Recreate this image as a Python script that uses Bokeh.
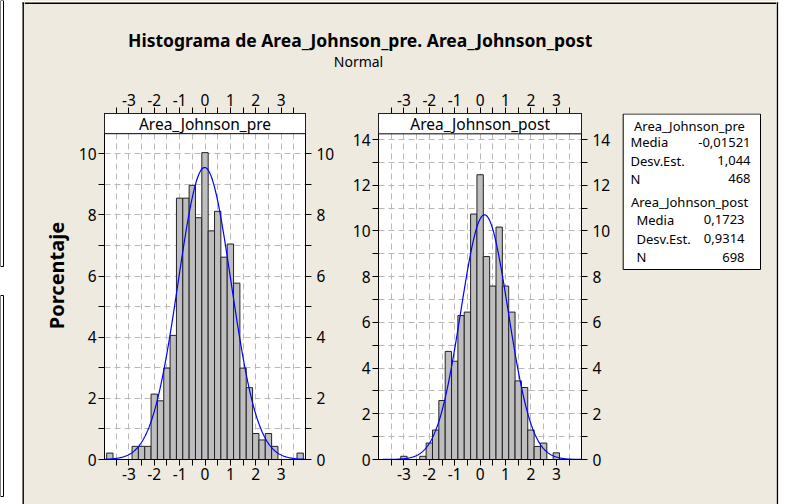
import numpy as np
from bokeh.plotting import figure
from bokeh.models import Range1d, LinearAxis, FixedTicker, BoxAnnotation, Label
from bokeh.layouts import row, column
from bokeh.embed import file_html
from bokeh.resources import INLINE

BEIGE = "#EEEAE0"
FONT = "Noto Sans"

# ---------------- data ----------------
bin_mid = [-3.75, -3.5, -3.25, -3.0, -2.75, -2.5, -2.25, -2.0, -1.75, -1.5, -1.25,
           -1.0, -0.75, -0.5, -0.25, 0.0, 0.25, 0.5, 0.75, 1.0, 1.25, 1.5, 1.75,
           2.0, 2.25, 2.5, 2.75, 3.0, 3.25, 3.5, 3.75]
bin_width = 0.25
pre_pct = [0.21, 0.0, 0.0, 0.0, 0.43, 0.43, 0.43, 2.14, 1.92, 2.99, 4.06,
           8.55, 8.55, 8.97, 7.91, 10.04, 7.48, 8.12, 6.62, 7.05, 5.77, 2.99, 2.35,
           0.85, 0.64, 0.85, 0.43, 0.0, 0.0, 0.0, 0.21]
post_pct = [0.0, 0.0, 0.0, 0.14, 0.0, 0.0, 0.14, 0.72, 1.29, 2.58, 4.73,
            4.30, 6.30, 6.45, 10.74, 12.46, 8.88, 7.59, 10.17, 7.59, 6.45, 3.44, 3.15,
            1.29, 0.57, 0.72, 0.0, 0.29, 0.0, 0.0, 0.0]
series_names = ["Area_Johnson_pre", "Area_Johnson_post"]
means = [-0.01521, 0.1723]
sds = [1.044, 0.9314]
ns = [468, 698]
mean_text = ["-0,01521", "0,1723"]
sd_text = ["1,044", "0,9314"]
x_ticks = [-3, -2, -1, 0, 1, 2, 3]
x_minor = [-3.5, -2.5, -1.5, -0.5, 0.5, 1.5, 2.5, 3.5]
x_grid = [-3.5, -3, -2.5, -2, -1.5, -1, -0.5, 0, 0.5, 1, 1.5, 2, 2.5, 3, 3.5]
title_text = "Histograma de Area_Johnson_pre. Area_Johnson_post"
subtitle_text = "Normal"
ylabel_text = "Porcentaje"
stat_labels = ["Media", "Desv.Est.", "N"]


def style_axis(ax, standoff, ticks):
    ax.axis_line_color = "black"
    ax.major_tick_line_color = "black"
    ax.minor_tick_line_color = "black"
    ax.major_tick_out = 6
    ax.major_tick_in = 0
    ax.minor_tick_out = 6
    ax.minor_tick_in = 0
    ax.major_label_text_font = FONT
    ax.major_label_text_font_size = "15.5px"
    ax.major_label_text_color = "black"
    ax.major_label_standoff = standoff
    ax.major_label_overrides = {t: str(t) for t in ticks}


def panel(name, pct, mu, sd, xr, ytop, header_bottom, ymax_tick,
          min_left, frame_w, min_right):
    p = figure(frame_width=frame_w, frame_height=346,
               x_range=Range1d(*xr), y_range=Range1d(0, ytop),
               toolbar_location=None, output_backend="svg",
               min_border_left=min_left, min_border_right=min_right,
               min_border_top=28, min_border_bottom=45,
               background_fill_color="white", border_fill_color=BEIGE,
               outline_line_color="black", outline_line_width=1)
    yt = list(range(0, ymax_tick + 1, 2))
    ym = list(range(1, ymax_tick, 2))
    p.xgrid.ticker = FixedTicker(ticks=x_grid)
    p.ygrid.ticker = FixedTicker(ticks=list(range(1, ymax_tick + 1)))
    for g in (p.xgrid[0], p.ygrid[0]):
        g.grid_line_color = "#B8B8B8"
        g.grid_line_dash = "6 4"
        g.grid_line_width = 1
    p.xaxis[0].ticker = FixedTicker(ticks=x_ticks, minor_ticks=x_minor)
    style_axis(p.xaxis[0], 2, x_ticks)
    p.yaxis[0].ticker = FixedTicker(ticks=yt, minor_ticks=ym)
    style_axis(p.yaxis[0], 2, yt)
    ax_r = LinearAxis(ticker=FixedTicker(ticks=yt, minor_ticks=ym))
    style_axis(ax_r, 5, yt)
    p.add_layout(ax_r, "right")
    ax_t = LinearAxis(ticker=FixedTicker(ticks=x_ticks, minor_ticks=x_minor))
    style_axis(ax_t, 2, x_ticks)
    p.add_layout(ax_t, "above")

    p.vbar(x=bin_mid, top=pct, width=bin_width, bottom=0,
           fill_color="#BEBEBE", line_color="#222222", line_width=1)
    xs = np.linspace(xr[0], xr[1], 400)
    ys = 100.0 * bin_width * np.exp(-0.5 * ((xs - mu) / sd) ** 2) / (sd * np.sqrt(2 * np.pi))
    p.line(xs, ys, line_color="#0000FF", line_width=1.2)

    p.add_layout(BoxAnnotation(bottom=header_bottom, fill_color="white", fill_alpha=1.0,
                               line_color="black", line_width=1, line_alpha=1.0))
    p.add_layout(Label(x=0, y=(header_bottom + ytop) / 2, text=name,
                       text_align="center", text_baseline="middle",
                       text_font=FONT, text_font_size="15.5px", text_color="black"))
    return p


pre = panel(series_names[0], pre_pct, means[0], sds[0], (-3.96, 3.96), 11.32, 10.66, 10,
            30, 201, 37)
post = panel(series_names[1], post_pct, means[1], sds[1], (-4.0, 3.99), 15.14, 14.25, 14,
             36, 203, 34)


def blank(w, h, xr, yr, bg):
    f = figure(width=w, height=h, x_range=Range1d(*xr), y_range=Range1d(*yr),
               toolbar_location=None, output_backend="svg", min_border=0,
               x_axis_location=None, y_axis_location=None,
               background_fill_color=bg, border_fill_color=bg, outline_line_color=None)
    f.grid.visible = False
    return f


def side(w, xr):
    # a figure whose frame lines up with the panel frames (page y 113..459)
    f = figure(width=w, frame_height=346, x_range=Range1d(*xr), y_range=Range1d(459, 113),
               toolbar_location=None, output_backend="svg",
               min_border_left=0, min_border_right=0, min_border_top=28, min_border_bottom=45,
               x_axis_location=None, y_axis_location=None,
               background_fill_color=BEIGE, border_fill_color=BEIGE, outline_line_color=None)
    f.grid.visible = False
    return f


# title area (coordinates are page pixels)
tfig = blank(752, 85, (24, 776), (85, 0), BEIGE)
tfig.quad(left=[24], right=[776], top=[0], bottom=[2], fill_color="white", line_color=None)
tfig.quad(left=[24], right=[776], top=[2], bottom=[3.4], fill_color="black", line_color=None)
tfig.add_layout(Label(x=359.7, y=39.5, text=title_text, text_align="center",
                      text_baseline="middle", text_font=FONT, text_font_style="bold",
                      text_font_size="17.5px", text_color="black"))
tfig.add_layout(Label(x=358, y=61, text=subtitle_text, text_align="center",
                      text_baseline="middle", text_font=FONT,
                      text_font_size="14px", text_color="black"))

# y-axis title column
yfig = side(50, (24, 74))
yfig.add_layout(Label(x=56, y=275, text=ylabel_text, angle=np.pi / 2,
                      text_align="center", text_baseline="middle",
                      text_font=FONT, text_font_style="bold",
                      text_font_size="20px", text_color="black"))

# statistics box
lfig = side(161, (615, 776))
lfig.quad(left=[622.7], right=[760], top=[113.5], bottom=[269],
          fill_color="white", line_color="black", line_width=1)
blocks = [(125, 630, 750, [141.7, 160, 178.3]), (201, 636, 744, [219, 238.3, 256.7])]
for i, (ty, lx, rx, rows_y) in enumerate(blocks):
    lfig.add_layout(Label(x=689, y=ty, text=series_names[i], text_align="center",
                          text_baseline="middle", text_font=FONT, text_font_size="13px",
                          text_color="black"))
    vals = [mean_text[i], sd_text[i], str(ns[i])]
    for lab, val, yy in zip(stat_labels, vals, rows_y):
        lfig.add_layout(Label(x=lx, y=yy, text=lab, text_align="left", text_baseline="middle",
                              text_font=FONT, text_font_size="13px", text_color="black"))
        lfig.add_layout(Label(x=rx, y=yy, text=val, text_align="right", text_baseline="middle",
                              text_font=FONT, text_font_size="13px", text_color="black"))

# outer frame edges and neighbouring window fragments
left_strip = blank(24, 504, (0, 24), (504, 0), "white")
left_strip.quad(left=[22], right=[24], top=[2], bottom=[504], fill_color=BEIGE, line_color=None)
left_strip.quad(left=[22], right=[23.4], top=[2], bottom=[504], fill_color="black", line_color=None)
left_strip.quad(left=[22], right=[24], top=[2], bottom=[3.4], fill_color="black", line_color=None)
left_strip.quad(left=[0, 0], right=[3, 3], top=[0, 295], bottom=[266, 496],
                fill_color="white", line_color="black", line_width=1)
right_strip = blank(9, 504, (776, 785), (504, 0), "white")
right_strip.quad(left=[776], right=[777.6], top=[2], bottom=[504], fill_color="black", line_color=None)
right_strip.quad(left=[776], right=[777.6], top=[2], bottom=[3.4], fill_color="black", line_color=None)

bg = {"background-color": BEIGE}
panels = row(yfig, pre, post, lfig, styles=bg)
content = column(tfig, panels, styles=bg)
layout = row(left_strip, content, right_strip)

open("out.html", "w").write(file_html(layout, INLINE))
